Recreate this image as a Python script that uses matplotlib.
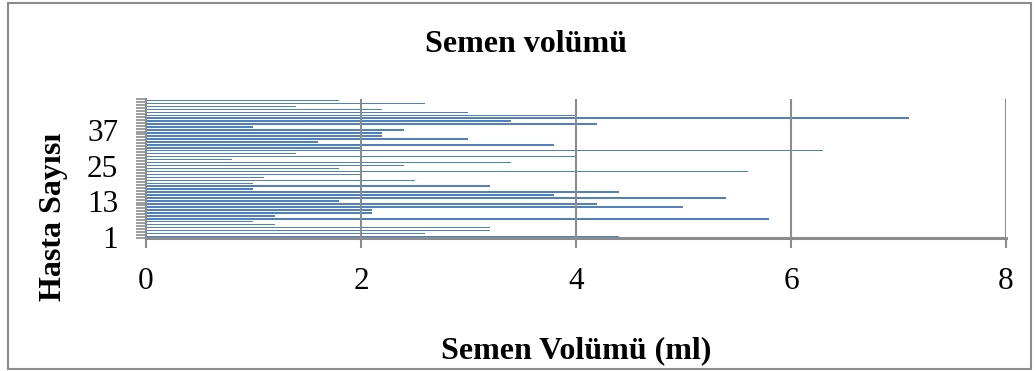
import numpy as np
import matplotlib
matplotlib.use('Agg')
import matplotlib.pyplot as plt
from matplotlib.patches import Rectangle

# Times benzeri yazı tipi
plt.rcParams['font.family'] = ['Liberation Serif', 'DejaVu Serif']

# Hasta başına semen hacmi (ml), 1. hastadan 47. hastaya
hasta_no = np.arange(1, 48)
semen_volumu = [4.4, 2.6, 3.2, 3.2, 1.2, 1.0, 5.8, 1.2, 2.1, 2.1,
                5.0, 4.2, 1.8, 5.4, 3.8, 4.4, 1.0, 3.2, 1.0, 2.5,
                1.1, 2.0, 5.6, 1.8, 2.4, 3.4, 0.8, 4.0, 1.4, 6.3,
                2.0, 3.8, 1.6, 3.0, 2.2, 2.2, 2.4, 1.0, 4.2, 3.4,
                7.1, 4.0, 3.0, 2.2, 1.4, 2.6, 1.8]
etiketli_hastalar = [1, 13, 25, 37]
x_ticks = [0, 2, 4, 6, 8]

gri = '#8c8c8c'
mavi = '#4F81BD'

fig = plt.figure(figsize=(10.36, 3.71), dpi=100)
ax = fig.add_axes([0.1409, 0.3585, 0.8301, 0.3747])

# Yatay çubuklar
ax.barh(hasta_no, semen_volumu, height=0.5, color=mavi)

ax.set_xlim(0, 8)
ax.set_ylim(0.5, len(hasta_no) + 0.5)
ax.set_xticks(x_ticks)
ax.set_yticks(etiketli_hastalar)
ax.set_yticks(np.arange(0.5, len(hasta_no) + 1), minor=True)
ax.xaxis.grid(True, color=gri, linewidth=1.5)

ax.tick_params(axis='x', which='major', length=7, width=1.5, color=gri,
               pad=14, labelsize=22.5)
ax.tick_params(axis='y', which='major', length=0, pad=20, labelsize=22.5)
ax.tick_params(axis='y', which='minor', length=7, width=1.2, color=gri)

for s in ['top', 'right']:
    ax.spines[s].set_visible(False)
ax.spines['left'].set_color(gri)
ax.spines['left'].set_linewidth(1.5)
ax.spines['bottom'].set_color(gri)
ax.spines['bottom'].set_linewidth(2.2)

# Başlık ve eksen adları
fig.text(0.508, 0.8585, 'Semen volümü', ha='center', va='baseline',
         fontsize=23, fontweight='bold')
fig.text(0.556, 0.035, 'Semen Volümü (ml)', ha='center', va='baseline',
         fontsize=23, fontweight='bold')
fig.text(0.052, 0.416, 'Hasta Sayısı', ha='center', va='center',
         rotation=90, fontsize=23, fontweight='bold')

# Grafik çerçevesi
fig.patches.append(Rectangle((0.0077, 0.0054), 0.987, 0.987, fill=False,
                             edgecolor=gri, linewidth=1.5,
                             transform=fig.transFigure, figure=fig))

fig.savefig('out.png', dpi=100)
